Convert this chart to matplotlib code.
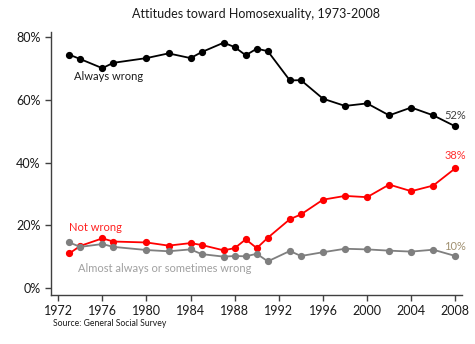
import matplotlib
matplotlib.use("Agg")
import matplotlib.pyplot as plt
from matplotlib.ticker import FuncFormatter

plt.rcParams['font.family'] = ['Lato', 'DejaVu Sans']

years = [1973, 1974, 1976, 1977, 1980, 1982, 1984, 1985, 1987, 1988, 1989,
         1990, 1991, 1993, 1994, 1996, 1998, 2000, 2002, 2004, 2006, 2008]
always_wrong = [74.3, 72.9, 70.0, 71.7, 73.2, 74.7, 73.2, 75.1, 78.1, 76.7, 74.1,
                76.2, 75.4, 66.1, 66.2, 60.3, 58.0, 58.8, 55.0, 57.5, 55.0, 51.5]
not_wrong = [11.1, 13.5, 15.9, 14.9, 14.6, 13.6, 14.4, 13.8, 12.1, 12.8, 15.6,
             12.8, 16.1, 22.0, 23.5, 28.2, 29.4, 29.0, 33.0, 30.9, 32.7, 38.2]
sometimes_wrong = [14.6, 13.2, 14.1, 13.2, 12.2, 11.8, 12.4, 10.9, 10.1, 10.3, 10.2,
                   11.0, 8.6, 11.9, 10.3, 11.5, 12.6, 12.4, 12.0, 11.7, 12.3, 10.3]
x_ticks = [1972, 1976, 1980, 1984, 1988, 1992, 1996, 2000, 2004, 2008]
y_ticks = [0, 20, 40, 60, 80]

fig = plt.figure(figsize=(4.75, 3.44), dpi=100)
ax = fig.add_axes([0.1074, 0.1424, 0.8652, 0.7646])

ax.plot(years, always_wrong, color='black', lw=1.3, marker='o', ms=4.2)
ax.plot(years, not_wrong, color='#ff0000', lw=1.3, marker='o', ms=4.2)
ax.plot(years, sometimes_wrong, color='#7f7f7f', lw=1.3, marker='o', ms=4.2)

ax.set_xlim(1971.35, 2008.6)
ax.set_ylim(-2.1, 81.5)
ax.set_xticks(x_ticks)
ax.set_yticks(y_ticks)
ax.yaxis.set_major_formatter(FuncFormatter(lambda v, p: f"{v:.0f}%"))

for side in ('top', 'right'):
    ax.spines[side].set_visible(False)
for side in ('left', 'bottom'):
    ax.spines[side].set_color('#404040')
    ax.spines[side].set_linewidth(1.0)
ax.tick_params(axis='both', colors='#404040', labelcolor='#1a1a1a',
               labelsize=9, length=4, width=1.0, direction='out')

ax.set_title("Attitudes toward Homosexuality, 1973-2008", fontsize=9.0,
             color='#1a1a1a', pad=10)

ax.text(1973.4, 67.3, "Always wrong", fontsize=8.0, color='#1a1a1a', va='center')
ax.text(1973.0, 19.4, "Not wrong", fontsize=8.0, color='#ff2020', va='center')
ax.text(1973.8, 6.4, "Almost always or sometimes wrong", fontsize=8.0,
        color='#a0a0a0', va='center')

ax.text(2008, always_wrong[-1] + 3.6, f"{round(always_wrong[-1]):.0f}%",
        fontsize=8.0, color='#404040', ha='center', va='center')
ax.text(2008, not_wrong[-1] + 3.9, f"{round(not_wrong[-1]):.0f}%",
        fontsize=8.0, color='#ff3030', ha='center', va='center')
ax.text(2008, sometimes_wrong[-1] + 2.9, f"{round(sometimes_wrong[-1]):.0f}%",
        fontsize=8.0, color='#a09070', ha='center', va='center')

fig.text(53 / 475, 1 - 323 / 344, "Source: General Social Survey", fontsize=6.2,
         color='#1a1a1a', va='center', ha='left')

fig.savefig("out.png", dpi=100)
